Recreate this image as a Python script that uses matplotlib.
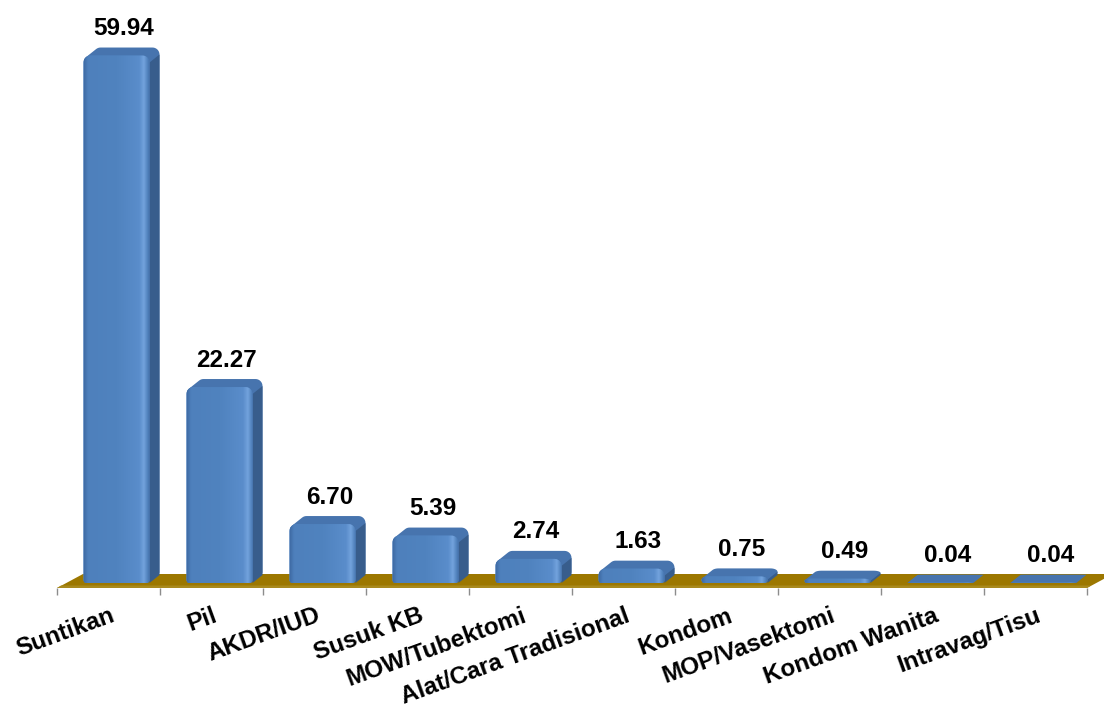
import numpy as np
import matplotlib
matplotlib.use("Agg")
import matplotlib.pyplot as plt
from matplotlib.patches import Polygon
from matplotlib.colors import to_rgb

methods = ["Suntikan", "Pil", "AKDR/IUD", "Susuk KB", "MOW/Tubektomi",
           "Alat/Cara Tradisional", "Kondom", "MOP/Vasektomi",
           "Kondom Wanita", "Intravag/Tisu"]
percent = [59.94, 22.27, 6.70, 5.39, 2.74, 1.63, 0.75, 0.49, 0.04, 0.04]

plt.rcParams['font.family'] = ['Liberation Sans', 'DejaVu Sans']
plt.rcParams['font.weight'] = 'bold'

W, H = 1104, 708
PX_X = 103.0    # pixels per category slot
PX_Y = 8.8      # pixels per percent
X0_PX = 108.5   # pixel of first category centre
Y0_PX = 583.0   # pixel of the bar baseline


def ux(p):
    return p / PX_X


def uy(p):
    return p / PX_Y


def rounded_rect(x0, y0, w, h, rx, ry, rb, n=10):
    # rounded top corners, softer bottom corners
    ry = min(ry, h / 2)
    rbx = min(ux(rb), w / 2)
    rby = min(uy(rb), h / 2)
    t = np.linspace(0, np.pi / 2, n)
    pts = []
    corners = [(x0 + w - rbx, y0 + rby, rbx, rby, -np.pi / 2),
               (x0 + w - rx, y0 + h - ry, rx, ry, 0),
               (x0 + rx, y0 + h - ry, rx, ry, np.pi / 2),
               (x0 + rbx, y0 + rby, rbx, rby, np.pi)]
    for cx, cy, ax_, ay_, a0 in corners:
        a = a0 + t
        pts.extend(zip(cx + ax_ * np.cos(a), cy + ay_ * np.sin(a)))
    return np.array(pts)


def hull(points):
    # monotone chain convex hull, computed in pixel units
    p = sorted(set((round(x * PX_X, 4), round(y * PX_Y, 4)) for x, y in points))

    def cross(o, a, b):
        return (a[0] - o[0]) * (b[1] - o[1]) - (a[1] - o[1]) * (b[0] - o[0])

    lower, upper = [], []
    for q in p:
        while len(lower) >= 2 and cross(lower[-2], lower[-1], q) <= 0:
            lower.pop()
        lower.append(q)
    for q in reversed(p):
        while len(upper) >= 2 and cross(upper[-2], upper[-1], q) <= 0:
            upper.pop()
        upper.append(q)
    h = np.array(lower[:-1] + upper[:-1])
    return np.column_stack([h[:, 0] / PX_X, h[:, 1] / PX_Y])


def front_gradient():
    stops = [0.0, 0.06, 0.5, 0.84, 0.91, 0.97, 1.0]
    cols = ["#3F6CA5", "#4E80BC", "#5083BF", "#5A8DCB", "#73A3DD", "#4F80BB", "#4470A8"]
    rgb = np.array([to_rgb(c) for c in cols])
    s = np.linspace(0, 1, 200)
    grad = np.stack([np.interp(s, stops, rgb[:, k]) for k in range(3)], axis=-1)
    return grad[np.newaxis, :, :]


fig = plt.figure(figsize=(W / 100, H / 100), dpi=100)
ax = fig.add_axes([0, 0, 1, 1])
ax.axis('off')

# gold floor
fy_front = -uy(588 - Y0_PX)
fy_back = uy(Y0_PX - 574)
shift = ux(26)
floor = Polygon([(-0.5, fy_front), (9.5, fy_front), (9.5 + shift, fy_back),
                 (-0.5 + shift, fy_back)], closed=True, fc="#9C7700", ec="none", zorder=1)
ax.add_patch(floor)
strip = Polygon([(-0.5, fy_front), (9.5, fy_front), (9.5 + ux(4), fy_front + uy(2.5)),
                 (-0.5 + ux(4), fy_front + uy(2.5))], closed=True, fc="#A98A1E", ec="none", zorder=1)
ax.add_patch(strip)

# tick marks under the floor
bounds = np.arange(len(methods) + 1) - 0.5
ax.vlines(bounds, fy_front, fy_front - uy(7), color="#8C8C8C", lw=1, zorder=1)

grad = front_gradient()
bw = ux(66)
dx, dy = ux(10), uy(8)
rx, ry = ux(7), uy(7)

for i, (name, v) in enumerate(zip(methods, percent)):
    x0 = i - 0.5 + ux(26.5)
    h = v
    # extruded depth: hull of front and back outlines
    pts = rounded_rect(x0, 0, bw, h, rx, ry, 3)
    body = hull(np.vstack([pts, pts + [dx, dy]]))
    ax.add_patch(Polygon(body, closed=True, fc="#4774AE", ec="none", zorder=2))
    # right side face
    top_side = max(h - min(ry, h / 2), 0)
    x1 = x0 + bw
    if h > uy(3):
        side = Polygon([(x1, 0), (x1, top_side), (x1 + dx, top_side + dy), (x1 + dx, dy)],
                       closed=True, fc="#385D8C", ec="none", zorder=3)
        ax.add_patch(side)
    # front face with gradient
    front = Polygon(pts, closed=True, fc="#4F81BD", ec="none", zorder=4)
    ax.add_patch(front)
    im = ax.imshow(grad, extent=[x0, x1, 0, h], aspect='auto', zorder=4.5,
                   interpolation='bilinear')
    im.set_clip_path(front)

    ax.annotate(f"{v:.2f}", xy=(x0 + ux(40), h), xytext=(0, 27),
                textcoords='offset pixels', ha='center', va='center',
                fontsize=17.5, fontweight='bold', color='black', zorder=6)

    ax.text(i + ux(1), -uy(604 - Y0_PX), name, rotation=20, rotation_mode='anchor',
            ha='right', va='top', fontsize=17.5, fontweight='bold', color='black')

ax.set_xlim(-X0_PX / PX_X, (W - X0_PX) / PX_X)
ax.set_ylim(-(H - Y0_PX) / PX_Y, Y0_PX / PX_Y)

fig.savefig("out.png", dpi=100, facecolor='white')
